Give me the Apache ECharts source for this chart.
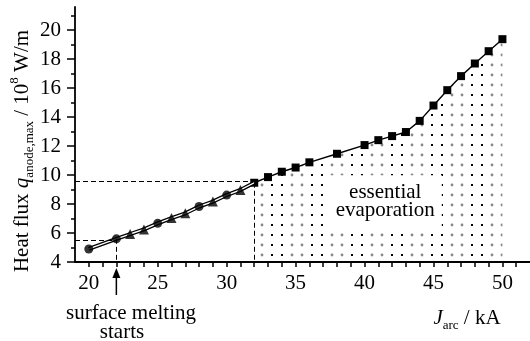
<!DOCTYPE html>
<html>
<head>
<meta charset="utf-8">
<script src="https://cdn.jsdelivr.net/npm/echarts@6/dist/echarts.min.js"></script>
<style>
  html, body { margin: 0; padding: 0; background: #fff; }
  #chart { width: 530px; height: 341px; }
</style>
</head>
<body>
<div id="chart"></div>
<script>
// Arc current J_arc (kA) and peak anode heat flux (10^8 W/m)
const circleJ = [20, 22, 25, 28, 30];
const circleQ = [4.9, 5.6, 6.67, 7.83, 8.62];
const triangleJ = [23, 24, 26, 27, 29, 31];
const triangleQ = [5.93, 6.25, 7.03, 7.36, 8.17, 8.97];
const squareJ = [32, 33, 34, 35, 36, 38, 40, 41, 42, 43, 44, 45, 46, 47, 48, 49, 50];
const squareQ = [9.47, 9.86, 10.23, 10.52, 10.88, 11.47, 12.07, 12.41, 12.69, 12.97, 13.74, 14.8, 15.86, 16.83, 17.7, 18.55, 19.38];

// Guide levels: melting onset and evaporation onset
const meltJ = 22, meltQ = 5.5;
const evapJ = 32, evapQ = 9.55;

const xLabelValues = [20, 25, 30, 35, 40, 45, 50];
const yLabelValues = [4, 6, 8, 10, 12, 14, 16, 18, 20];

const FONT = '"Liberation Serif", "Times New Roman", serif';
const FS = 21;

const pairs = (xs, ys) => xs.map((x, i) => [x, ys[i]]);
const circles = pairs(circleJ, circleQ);
const triangles = pairs(triangleJ, triangleQ);
const squares = pairs(squareJ, squareQ);
// Melting regime curve: circles and triangles in order, joined to the first square
const meltCurve = circles.concat(triangles, [squares[0]]).sort((a, b) => a[0] - b[0]);

const xTicks = [];
for (let v = 20; v <= 51; v++) xTicks.push(v);
const yMinor = [];
for (let v = 5; v <= 21; v += 2) yMinor.push(v);

// Dot texture for the evaporation area
function makeDots() {
  const c = document.createElement('canvas');
  c.width = 40; c.height = 10;
  const g = c.getContext('2d');
  g.fillStyle = '#000';
  g.fillRect(1, 4, 2, 2);
  g.fillRect(31, 4, 2, 2);
  g.fillStyle = '#888';
  g.beginPath(); g.arc(12, 5, 1.4, 0, Math.PI * 2); g.fill();
  g.beginPath(); g.arc(22, 5, 1.4, 0, Math.PI * 2); g.fill();
  return c;
}

const chart = echarts.init(document.getElementById('chart'), null, { renderer: 'canvas' });

const dashed = { color: '#000', width: 1, type: [5, 3] };

chart.setOption({
  animation: false,
  backgroundColor: '#fff',
  grid: { left: 75, right: 0, top: 7, bottom: 79 },
  xAxis: {
    type: 'value', min: 19, max: 52,
    axisLine: { lineStyle: { color: '#000', width: 1.8 } },
    axisTick: { customValues: xTicks, length: 5, lineStyle: { color: '#000', width: 1.5 } },
    axisLabel: { customValues: xLabelValues, color: '#000', fontFamily: FONT, fontSize: FS, margin: 11 },
    splitLine: { show: false }
  },
  yAxis: [{
    type: 'value', min: 4, max: 21.6,
    axisLine: { show: true, lineStyle: { color: '#000', width: 1.8 } },
    axisTick: { show: true, customValues: yLabelValues, length: 8, lineStyle: { color: '#000', width: 1.5 } },
    axisLabel: { customValues: yLabelValues, color: '#000', fontFamily: FONT, fontSize: FS, margin: 14 },
    splitLine: { show: false }
  }, {
    type: 'value', min: 4, max: 21.6, position: 'left',
    axisLine: { show: false },
    axisTick: { show: true, customValues: yMinor, length: 4, lineStyle: { color: '#000', width: 1.5 } },
    axisLabel: { show: false },
    splitLine: { show: false }
  }],
  series: [
    {
      // evaporation regime: squares with dotted area beneath
      type: 'line', data: squares, z: 3,
      symbol: 'rect', symbolSize: 8,
      itemStyle: { color: '#000' },
      lineStyle: { color: '#000', width: 1.4 },
      areaStyle: { color: { image: makeDots(), repeat: 'repeat' }, opacity: 1 }
    },
    {
      // melting regime: outlined double line
      type: 'line', data: meltCurve, symbol: 'none', z: 3,
      lineStyle: { color: '#000', width: 4 }
    },
    {
      type: 'line', data: meltCurve, symbol: 'none', z: 4,
      lineStyle: { color: '#fff', width: 1.4 },
      markLine: {
        silent: true, symbol: 'none', label: { show: false },
        lineStyle: dashed,
        data: [
          [{ coord: [19, meltQ] }, { coord: [meltJ, meltQ] }],
          [{ coord: [meltJ, circleQ[1]] }, { coord: [meltJ, 4] }],
          [{ coord: [19, evapQ] }, { coord: [evapJ, evapQ] }],
          [{ coord: [evapJ, squareQ[0]] }, { coord: [evapJ, 4] }]
        ]
      }
    },
    {
      type: 'scatter', data: circles, symbol: 'circle', symbolSize: 9, z: 5,
      itemStyle: { color: '#000' }
    },
    {
      type: 'scatter', data: triangles, symbol: 'triangle', symbolSize: 10, z: 5,
      itemStyle: { color: '#000' }
    }
  ]
});

// Annotations placed from data coordinates
const meltX = chart.convertToPixel({ xAxisIndex: 0 }, meltJ);
const axisY = chart.convertToPixel({ yAxisIndex: 0 }, 4);
const labelPt = chart.convertToPixel({ xAxisIndex: 0, yAxisIndex: 0 }, [41.5, 8.2]);

const richBase = {
  t: { fontFamily: FONT, fontSize: FS, lineHeight: 28, verticalAlign: 'middle', fill: '#000' },
  i: { fontFamily: FONT, fontSize: FS, fontStyle: 'italic', lineHeight: 28, verticalAlign: 'middle', fill: '#000' },
  sub: { fontFamily: FONT, fontSize: 13, lineHeight: 13, verticalAlign: 'bottom', fill: '#000' },
  sup: { fontFamily: FONT, fontSize: 13, lineHeight: 13, verticalAlign: 'top', fill: '#000' }
};

chart.setOption({
  graphic: [
    {
      type: 'text', x: 22, y: 151, rotation: Math.PI / 2,
      style: {
        text: '{t|Heat flux }{i|q}{sub|anode,max}{t| / 10}{sup|8}{t| W/m}',
        align: 'center', verticalAlign: 'middle', rich: richBase
      }
    },
    {
      type: 'text', x: 467, y: 318,
      style: {
        text: '{i|J}{sub|arc}{t| / kA}',
        align: 'center', verticalAlign: 'middle', rich: richBase
      }
    },
    {
      type: 'text', x: labelPt[0], y: labelPt[1], z: 10,
      style: {
        text: 'essential\nevaporation', align: 'center', verticalAlign: 'middle',
        fontFamily: FONT, fontSize: FS, lineHeight: 18, fill: '#000',
        backgroundColor: '#fff', padding: [8, 7]
      }
    },
    {
      type: 'line', z: 10,
      shape: { x1: meltX, y1: axisY + 14, x2: meltX, y2: axisY + 33 },
      style: { stroke: '#000', lineWidth: 1.5 }
    },
    {
      type: 'polygon', z: 10,
      shape: { points: [[meltX, axisY + 6], [meltX - 4, axisY + 16], [meltX + 4, axisY + 16]] },
      style: { fill: '#000' }
    },
    {
      type: 'text', x: 131, y: 313,
      style: { text: 'surface melting', align: 'center', verticalAlign: 'middle', fontFamily: FONT, fontSize: FS, fill: '#000' }
    },
    {
      type: 'text', x: 122, y: 332,
      style: { text: 'starts', align: 'center', verticalAlign: 'middle', fontFamily: FONT, fontSize: FS, fill: '#000' }
    }
  ]
});
</script>
</body>
</html>
